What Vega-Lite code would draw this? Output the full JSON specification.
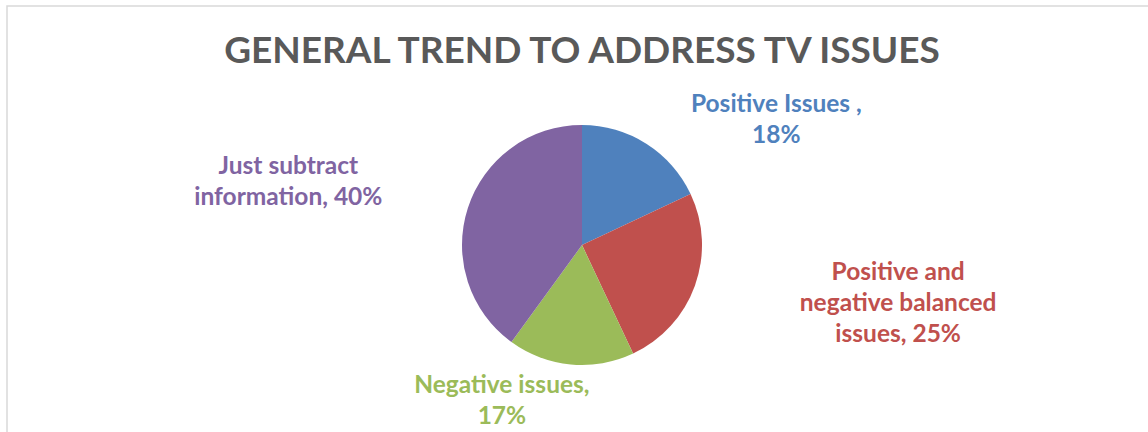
{
  "$schema": "https://vega.github.io/schema/vega-lite/v6.json",
  "width": 1150,
  "height": 478,
  "autosize": {"type": "none"},
  "padding": {"left": 7, "top": 6, "right": 0, "bottom": 0},
  "background": "white",
  "view": {"stroke": "#d9d9d9", "strokeWidth": 1.5, "fill": "white"},
  "config": {"view": {"stroke": "#d9d9d9", "strokeWidth": 1.5}},
  "title": {
    "text": "GENERAL TREND TO ADDRESS TV ISSUES",
    "font": "Lato",
    "fontSize": 37,
    "fontWeight": "bold",
    "color": "#595959",
    "anchor": "middle",
    "frame": "group",
    "offset": -65
  },
  "data": {
    "values": [
      {"i": 1, "category": "Positive Issues", "value": 18, "label": "Positive Issues ,\n18%"},
      {"i": 2, "category": "Positive and negative balanced issues", "value": 25, "label": "Positive and\nnegative balanced\nissues, 25%"},
      {"i": 3, "category": "Negative issues", "value": 17, "label": "Negative issues,\n17%"},
      {"i": 4, "category": "Just subtract information", "value": 40, "label": "Just subtract\ninformation, 40%"}
    ]
  },
  "encoding": {
    "theta": {"field": "value", "type": "quantitative", "stack": true},
    "order": {"field": "i", "type": "quantitative"},
    "color": {
      "field": "category",
      "type": "nominal",
      "scale": {
        "domain": ["Positive Issues", "Positive and negative balanced issues", "Negative issues", "Just subtract information"],
        "range": ["#4F81BD", "#C0504D", "#9BBB59", "#8064A2"]
      },
      "legend": null
    }
  },
  "layer": [
    {"mark": {"type": "arc", "outerRadius": 120}},
    {
      "mark": {"type": "text", "radius": 150, "dx": 114, "dy": -13, "font": "Lato", "fontSize": 24.5, "fontWeight": "bold", "lineBreak": "\n", "lineHeight": 31, "align": "center", "baseline": "middle"},
      "encoding": {"text": {"condition": {"test": "datum.i == 1", "field": "label"}, "value": ""}}
    },
    {
      "mark": {"type": "text", "radius": 150, "dx": 175, "dy": -23, "font": "Lato", "fontSize": 24.5, "fontWeight": "bold", "lineBreak": "\n", "lineHeight": 31, "align": "center", "baseline": "middle"},
      "encoding": {"text": {"condition": {"test": "datum.i == 2", "field": "label"}, "value": ""}}
    },
    {
      "mark": {"type": "text", "radius": 150, "dx": -66, "dy": -8, "font": "Lato", "fontSize": 24.5, "fontWeight": "bold", "lineBreak": "\n", "lineHeight": 31, "align": "center", "baseline": "middle"},
      "encoding": {"text": {"condition": {"test": "datum.i == 3", "field": "label"}, "value": ""}}
    },
    {
      "mark": {"type": "text", "radius": 150, "dx": -151, "dy": -32, "font": "Lato", "fontSize": 24.5, "fontWeight": "bold", "lineBreak": "\n", "lineHeight": 31, "align": "center", "baseline": "middle"},
      "encoding": {"text": {"condition": {"test": "datum.i == 4", "field": "label"}, "value": ""}}
    }
  ]
}
